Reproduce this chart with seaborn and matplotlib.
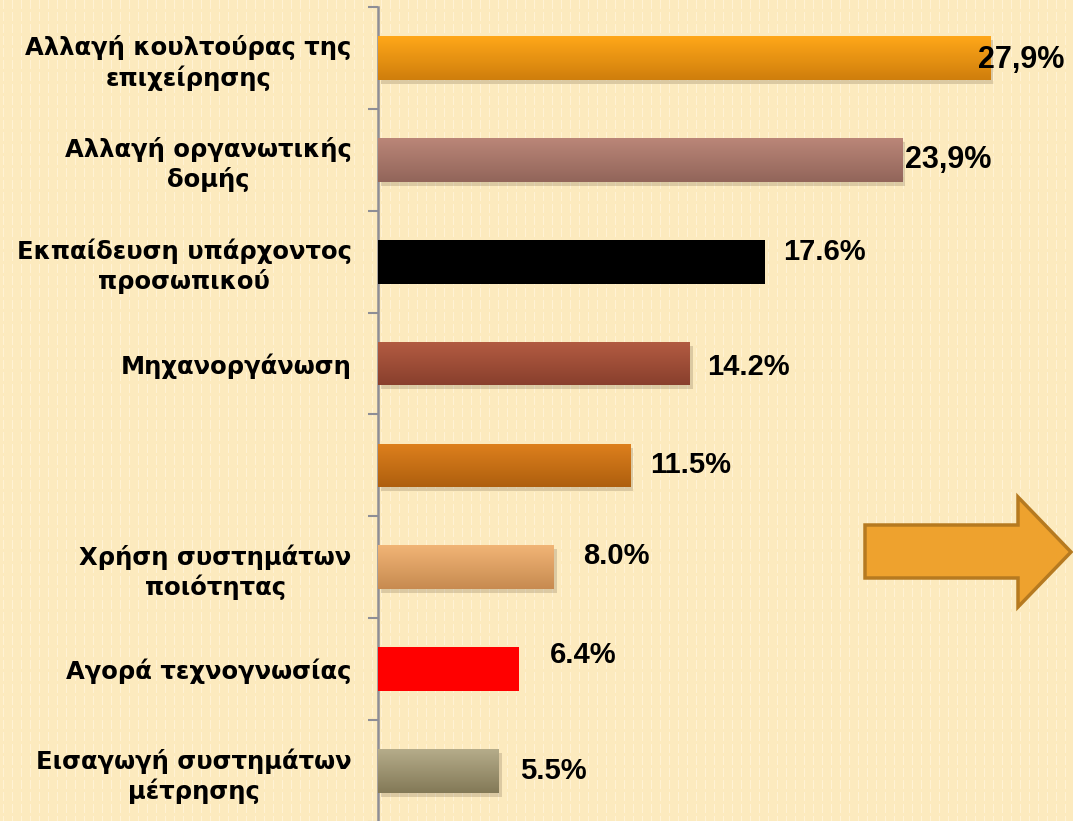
import numpy as np
import pandas as pd
import seaborn as sns
import matplotlib
matplotlib.use("Agg")
import matplotlib.pyplot as plt
from matplotlib.patches import Polygon, Rectangle
from matplotlib import transforms
from matplotlib.colors import to_rgb

# ---------------- data ----------------
categories = [
    "Αλλαγή κουλτούρας της\nεπιχείρησης",
    "Αλλαγή οργανωτικής\nδομής",
    "Εκπαίδευση υπάρχοντος\nπροσωπικού",
    "Μηχανοργάνωση",
    "",
    "Χρήση συστημάτων\nποιότητας",
    "Αγορά τεχνογνωσίας",
    "Εισαγωγή συστημάτων\nμέτρησης",
]
values = [27.9, 23.9, 17.6, 14.2, 11.5, 8.0, 6.4, 5.5]
value_labels = ["27,9%", "23,9%", "17.6%", "14.2%", "11.5%", "8.0%", "6.4%", "5.5%"]

# ---------------- style ----------------
top_colors = ["#FFA719", "#BA8678", "#000000", "#B35C42", "#DE801D", "#F1B576", "#FF0000", "#B5AC8A"]
bot_colors = ["#CF7E0C", "#92655A", "#000000", "#893F2D", "#AE5F0E", "#C78A50", "#FF0000", "#837957"]
base_colors = ["#F0961A", "#A87566", "#000000", "#A04E37", "#C96E15", "#DCA064", "#FF0000", "#9E9470"]

W, H = 1073, 821
fig = plt.figure(figsize=(W / 100, H / 100), dpi=100)

# background pattern (cream with faint vertical dashed light lines)
bg = np.zeros((H, W, 3))
bg[:, :] = np.array([252, 234, 190]) / 255
light = np.array([255, 242, 212]) / 255
for x in range(3, W, 9):
    for y in range(0, H):
        if (y % 12) < 9:
            bg[y, x] = light
fig.figimage(bg, xo=0, yo=0, origin="upper", zorder=-10)

ax_left = 378 / W
ax_top = 1 - 7 / H
ax_h = 815 / H
ax = fig.add_axes([ax_left, ax_top - ax_h, 1 - ax_left, ax_h])
ax.set_zorder(1)
ax.set_facecolor("none")

df = pd.DataFrame({"cat": categories, "val": values})
sns.barplot(data=df, x="val", y="cat", hue="cat", palette=base_colors,
            legend=False, orient="h", width=0.43, ax=ax, saturation=1,
            edgecolor="none", zorder=3)

xmax = 695 / 21.94
ax.set_xlim(0, xmax)
ax.set_ylim(len(categories) - 0.5, -0.5)

# shadows + gradients
shadow_tr = transforms.offset_copy(ax.transData, fig=fig, x=3, y=-4, units="dots")
for i, p in enumerate(list(ax.patches)):
    x0, y0 = p.get_x(), p.get_y()
    w, h = p.get_width(), p.get_height()
    if i not in (2, 6):
        sh = Rectangle((x0, y0), w, h, transform=shadow_tr, facecolor="#7a6a50",
                       alpha=0.25, edgecolor="none", zorder=2)
        ax.add_patch(sh)
    t = np.array(to_rgb(top_colors[i]))
    b = np.array(to_rgb(bot_colors[i]))
    n = 64
    frac = np.linspace(0, 1, n)[:, None]
    grad = (t * (1 - frac) + b * frac)[:, None, :]
    im = ax.imshow(grad, extent=[x0, x0 + w, y0 + h, y0], aspect="auto",
                   zorder=4, interpolation="bilinear")
    im.set_clip_path(p)

ax.set_xlim(0, xmax)
ax.set_ylim(len(categories) - 0.5, -0.5)
ax.set_aspect("auto")

# value labels (pixel offsets from bar end / bar centre)
offsets = [(-12, -2), (3, 0), (19, 10), (18, -3), (20, 0), (30, 11), (31, 14), (21, 0)]
for i, (v, lab) in enumerate(zip(values, value_labels)):
    dx, dy = offsets[i]
    ax.annotate(lab, xy=(v, i), xytext=(dx, dy), textcoords="offset pixels",
                ha="left", va="center", color="black", zorder=6,
                annotation_clip=False, family="Liberation Sans",
                fontsize=22 if i < 2 else 21, fontweight="bold")

# axes styling
for s in ["top", "right", "bottom"]:
    ax.spines[s].set_visible(False)
ax.spines["left"].set_color("#8E8E96")
ax.spines["left"].set_linewidth(1.8)
ax.set_xticks([])
ax.set_xlabel("")
ax.set_ylabel("")
ax.set_yticks(range(len(categories)))
ax.set_yticklabels(categories)
ax.set_yticks(np.arange(-0.5, len(categories), 1.0), minor=True)
ax.tick_params(axis="y", which="major", length=0, pad=19)
ax.tick_params(axis="y", which="minor", length=7.5, width=1.5, color="#8E8E96", direction="out")
for lab in ax.get_yticklabels():
    lab.set_fontfamily("DejaVu Sans")
    lab.set_fontweight("bold")
    lab.set_fontsize(17.5)
    lab.set_multialignment("center")
    lab.set_linespacing(1.25)

# decorative arrow
pts_px = [(865, 525), (1018, 525), (1018, 497), (1071, 552), (1018, 607), (1018, 578), (865, 578)]
pts = [(x / W, 1 - y / H) for x, y in pts_px]
fig.patches.append(Polygon(pts, closed=True, transform=fig.transFigure,
                           facecolor="#EEA22E", edgecolor="#B67A20", linewidth=2.5,
                           joinstyle="miter", zorder=5))

fig.savefig("out.png", dpi=100)
